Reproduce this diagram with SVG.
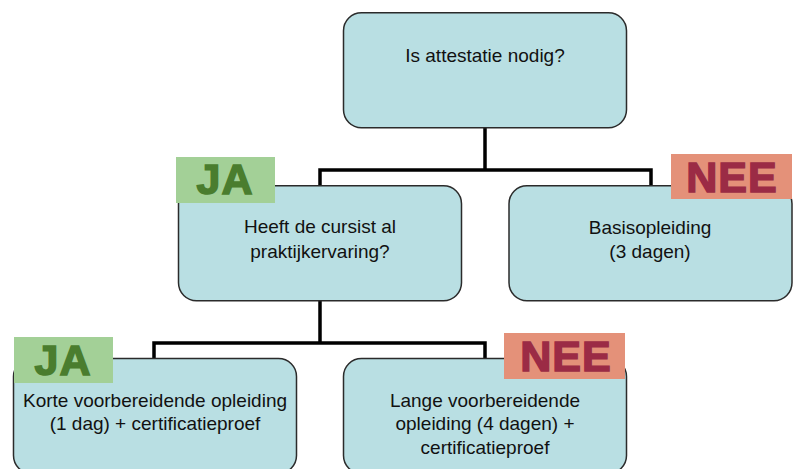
<svg xmlns="http://www.w3.org/2000/svg" width="796" height="469" viewBox="0 0 796 469">
<style>
.box{fill:#B9DFE3;stroke:#2b2b2b;stroke-width:1.5}
.t{font-family:"Liberation Sans",Arial,sans-serif;font-size:19px;fill:#111;text-anchor:middle}
.ja{fill:#A3D097}
.jat{font-family:"Liberation Sans",Arial,sans-serif;font-size:43px;font-weight:bold;fill:#4A7D2E;stroke:#4A7D2E;stroke-width:1.5;text-anchor:middle;letter-spacing:1px}
.nee{fill:#E49179}
.neet{font-family:"Liberation Sans",Arial,sans-serif;font-size:43px;font-weight:bold;fill:#9B2B45;stroke:#9B2B45;stroke-width:1.5;text-anchor:middle;letter-spacing:1px}
.c{fill:none;stroke:#000;stroke-width:3.5}
</style>
<rect width="796" height="469" fill="#fff"/>
<g id="connectors">
<path class="c" d="M485 128 V170 M320 186 V170 H651 V186"/>
<path class="c" d="M320 301 V343 M154 359 V343 H485 V359"/>
</g>
<g id="n-attestatie">
<rect class="box" x="343.5" y="12.7" width="283" height="115" rx="18"/>
<text class="t" x="485" y="62">Is attestatie nodig?</text>
</g>
<g id="n-praktijk">
<rect class="box" x="178.5" y="185.7" width="283" height="115" rx="18"/>
<text class="t" x="320" y="233">Heeft de cursist al</text>
<text class="t" x="320" y="258">praktijkervaring?</text>
</g>
<g id="n-basis">
<rect class="box" x="509" y="185.7" width="283" height="115" rx="18"/>
<text class="t" x="650" y="234">Basisopleiding</text>
<text class="t" x="650" y="258">(3 dagen)</text>
</g>
<g id="n-korte">
<rect class="box" x="13.5" y="358.5" width="283" height="115" rx="18"/>
<text class="t" x="155" y="407">Korte voorbereidende opleiding</text>
<text class="t" x="155" y="430">(1 dag) + certificatieproef</text>
</g>
<g id="n-lange">
<rect class="box" x="343.5" y="358.5" width="283" height="115" rx="18"/>
<text class="t" x="485" y="407">Lange voorbereidende</text>
<text class="t" x="485" y="430">opleiding (4 dagen) +</text>
<text class="t" x="485" y="454">certificatieproef</text>
</g>
<g id="label-ja-1">
<rect class="ja" x="176" y="157" width="99" height="46"/>
<text class="jat" x="225" y="194">JA</text>
</g>
<g id="label-nee-1">
<rect class="nee" x="671" y="154" width="121" height="45"/>
<text class="neet" x="732" y="192">NEE</text>
</g>
<g id="label-ja-2">
<rect class="ja" x="14" y="337" width="99" height="46"/>
<text class="jat" x="63" y="375">JA</text>
</g>
<g id="label-nee-2">
<rect class="nee" x="504" y="333" width="121" height="46"/>
<text class="neet" x="566" y="371">NEE</text>
</g>
</svg>
